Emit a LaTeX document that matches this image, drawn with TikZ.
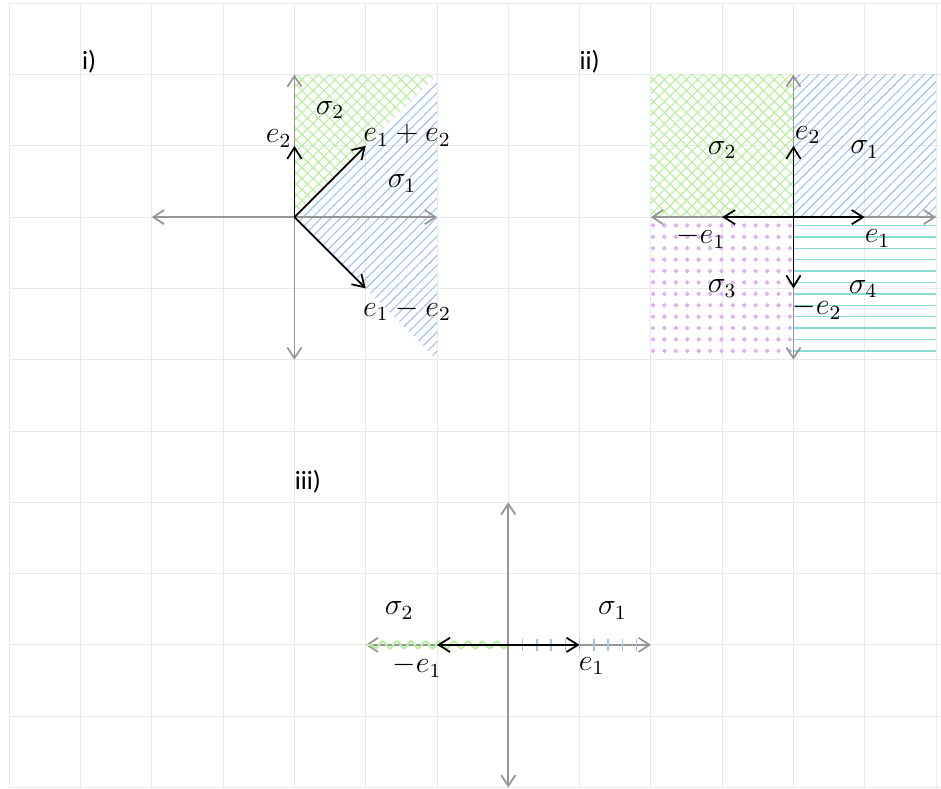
\documentclass[tikz,border=0pt]{standalone}
\usepackage{fontspec}
\newfontfamily\labfont{Carlito}
\usetikzlibrary{arrows.meta,patterns.meta,decorations.pathmorphing,calc}
\definecolor{gridc}{RGB}{234,234,234}
\definecolor{axisc}{RGB}{150,150,150}
\definecolor{greenc}{RGB}{185,238,160}
\definecolor{bluec}{RGB}{160,195,240}
\definecolor{purplec}{RGB}{215,165,245}
\definecolor{tealc}{RGB}{135,222,212}
\tikzset{
  gridline/.style={draw=gridc, line width=0.4pt},
  axisline/.style={draw=axisc, line width=0.7pt, {Straight Barb[length=1.5mm,width=2mm]}-{Straight Barb[length=1.5mm,width=2mm]}},
  vec/.style={draw=black, line width=0.7pt, -{Straight Barb[length=1.6mm,width=2mm]}},
  greenhatch/.style={pattern={Hatch[angle=45,distance=3.1pt,line width=0.45pt]}, pattern color=greenc},
  bluelines/.style={pattern={Lines[angle=45,distance=2.7pt,line width=0.45pt]}, pattern color=bluec},
  dotmark/.style={draw=purplec, fill=purplec!40, line width=0.4pt},
  tealline/.style={draw=tealc, line width=0.55pt},
  lbl/.style={inner sep=0pt, font=\fontsize{11.5}{13}\selectfont},
  panel/.style={inner sep=0pt, font=\labfont\fontsize{10.5}{12}\selectfont}
}
\begin{document}
\begin{tikzpicture}
\useasboundingbox (-0.13,-0.01) rectangle (13.07,11.046);
\draw[gridline] (0,0) grid (13.07,11);

% ---------- panel i ----------
\coordinate (O1) at (4,8);
\fill[greenhatch] (O1) -- ++(0,2) -- ++(2,0) -- cycle;
\fill[bluelines] (O1) -- ++(2,2) -- ++(0,-4) -- cycle;
\coordinate (L1) at (2,8); \coordinate (R1) at (6,8);
\coordinate (T1) at (4,10); \coordinate (B1) at (4,6);
\draw[axisline] (L1) -- (R1);
\draw[axisline] (T1) -- (B1);
\draw[vec] (O1) -- ++(0,1) coordinate (e2i);
\draw[vec] (O1) -- ++(1,1) coordinate (epi);
\draw[vec] (O1) -- ++(1,-1) coordinate (emi);
\node[panel] (labi) at (1.12,10.18) {i)};
\node[lbl] (te2i) at ($(O1)+(-0.22,1.1)$) {$e_2$};
\node[lbl] (tepi) at ($(O1)+(1.58,1.15)$) {$e_1 + e_2$};
\node[lbl] (temi) at ($(O1)+(1.58,-1.3)$) {$e_1 - e_2$};
\node[lbl] (s2i) at ($(O1)+(0.5,1.5)$) {$\sigma_2$};
\node[lbl] (s1i) at ($(O1)+(1.51,0.47)$) {$\sigma_1$};

% ---------- panel ii ----------
\coordinate (O2) at (11,8);
\fill[greenhatch] (O2) rectangle ++(-2,2);
\fill[bluelines] (O2) rectangle ++(2,2);
\foreach \k in {0,...,11} {
  \draw[tealline] ($(O2)+(0,-0.116-0.16*\k)$) -- ++(2,0);
  \foreach \j in {0,...,12}
    \draw[dotmark] ($(O2)+(-1.97+0.16*\j,-0.116-0.16*\k)$) circle (0.022);
}
\coordinate (L2) at (9,8); \coordinate (R2) at (13,8);
\coordinate (T2) at (11,10); \coordinate (B2) at (11,6);
\draw[axisline] (L2) -- (R2);
\draw[axisline] (T2) -- (B2);
\draw[vec] (O2) -- ++(1,0) coordinate (e1ii);
\draw[vec] (O2) -- ++(-1,0) coordinate (me1ii);
\draw[vec] (O2) -- ++(0,1) coordinate (e2ii);
\draw[vec] (O2) -- ++(0,-1) coordinate (me2ii);
\node[panel] (labii) at (8.14,10.18) {ii)};
\node[lbl] (s2ii) at ($(O2)+(-1.0,0.94)$) {$\sigma_2$};
\node[lbl] (s1ii) at ($(O2)+(1.0,0.95)$) {$\sigma_1$};
\node[lbl] (s3ii) at ($(O2)+(-1.0,-1.0)$) {$\sigma_3$};
\node[lbl] (s4ii) at ($(O2)+(0.98,-1.01)$) {$\sigma_4$};
\node[lbl] (te2ii) at ($(O2)+(0.2,1.15)$) {$e_2$};
\node[lbl] (tme1ii) at ($(O2)+(-1.3,-0.28)$) {$-e_1$};
\node[lbl] (te1ii) at ($(O2)+(1.18,-0.3)$) {$e_1$};
\node[lbl] (tme2ii) at ($(O2)+(0.33,-1.28)$) {$-e_2$};

% ---------- panel iii ----------
\coordinate (O3) at (7,2);
\coordinate (L3) at (5,2); \coordinate (R3) at (9,2);
\coordinate (T3) at (7,4); \coordinate (B3) at (7,0);
\draw[axisline] (L3) -- (R3);
\draw[axisline] (T3) -- (B3);
\draw[greenc, line width=0.8pt, decorate, decoration={snake, segment length=0.2cm, amplitude=0.05cm}] (O3) -- (L3);
\foreach \t in {0.2,0.4,...,1.8} \draw[bluec, line width=0.6pt] ($(O3)+(\t,-0.08)$) -- ($(O3)+(\t,0.08)$);
\draw[vec] (O3) -- ++(1,0) coordinate (e1iii);
\draw[vec] (O3) -- ++(-1,0) coordinate (me1iii);
\node[panel] (labiii) at (4.19,4.29) {iii)};
\node[lbl] (s2iii) at ($(O3)+(-1.53,0.48)$) {$\sigma_2$};
\node[lbl] (s1iii) at ($(O3)+(1.46,0.48)$) {$\sigma_1$};
\node[lbl] (tme1iii) at ($(O3)+(-1.28,-0.3)$) {$-e_1$};
\node[lbl] (te1iii) at ($(O3)+(1.17,-0.3)$) {$e_1$};
\end{tikzpicture}
\end{document}
